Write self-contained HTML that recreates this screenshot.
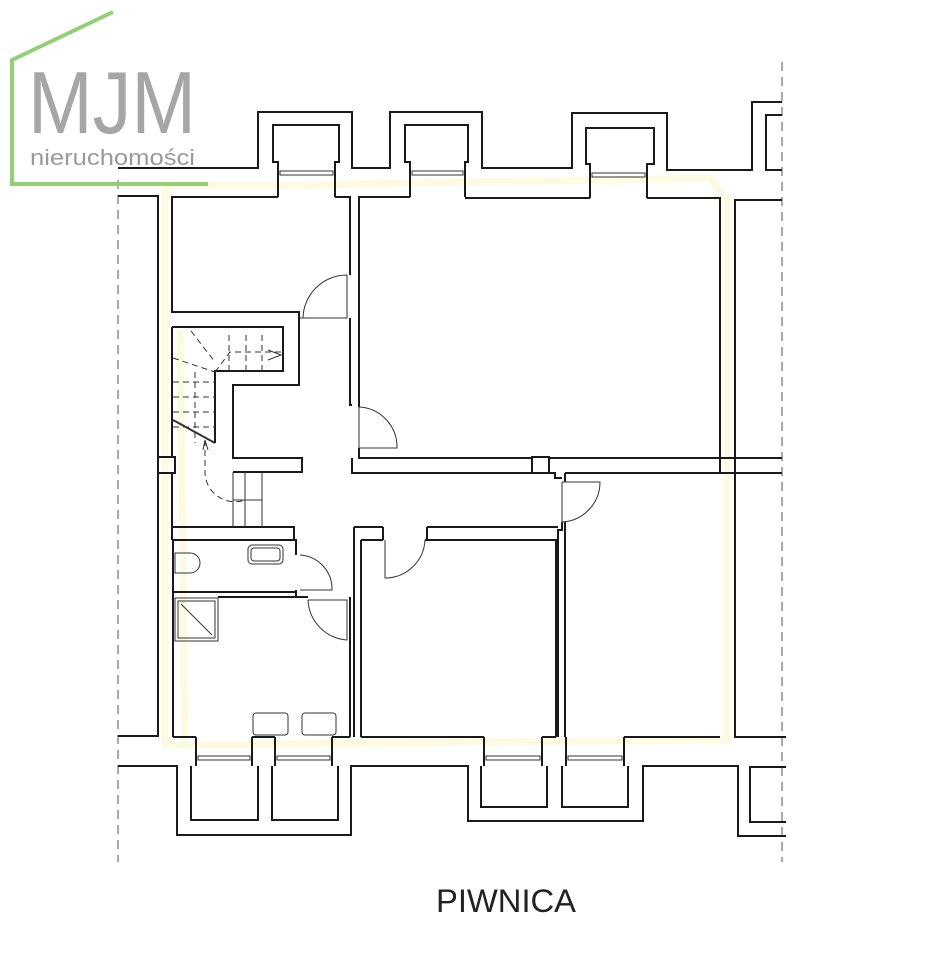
<!DOCTYPE html>
<html><head><meta charset="utf-8"><style>
html,body{margin:0;padding:0;background:#fff;}
svg{display:block;}
</style></head><body>
<svg width="928" height="960" viewBox="0 0 928 960" xmlns="http://www.w3.org/2000/svg">
<rect width="928" height="960" fill="#fff"/>
<!-- yellow highlight -->
<g fill="none" stroke="#fcfbe2" stroke-width="7" stroke-linejoin="round">
<path d="M165,185 H300 L710,178 L727,200 V740 L165,745 Z"/>
<path d="M180,330 L185,740"/>
</g>
<!-- dashed axis lines -->
<g stroke="#555" stroke-width="1" stroke-dasharray="9,6">
<line x1="118" y1="180" x2="118" y2="862"/>
<line x1="782" y1="62" x2="782" y2="862"/>
</g>
<!-- logo -->
<g fill="none" stroke="#94cf76" stroke-width="4">
<path d="M113,12 L12,60 V184 H208"/>
</g>
<text x="28" y="133" font-family="'Liberation Sans',sans-serif" font-size="88" fill="#a6a6a6" textLength="168" lengthAdjust="spacingAndGlyphs" font-weight="normal">MJM</text>
<text x="30" y="165" font-family="'Liberation Sans',sans-serif" font-size="22" fill="#9a9a9a" textLength="165" lengthAdjust="spacingAndGlyphs">nieruchomości</text>

<g fill="none" stroke="#1a1a1a" stroke-width="2" stroke-linejoin="miter">
<path d="M208,168 H258 V112 H352 V168 H390 V112 H482 V168 H572 V113 H667 V170 H752 V102 H782 M782,115 H766 V170 H782"/>
<path d="M118,168 H208"/>
<path d="M278,168 V162 H273 V125 H339 V162 H335 V168"/>
<path d="M410,168 V162 H405 V125 H468 V162 H465 V168"/>
<path d="M590,170 V164 H586 V128 H654 V164 H647 V170"/>
<path d="M278,168 V197 M335,168 V197 M410,168 V197 M465,168 V197 M590,170 V198 M647,170 V198"/>
<path d="M118,196 H158 V736 H118"/>
<path d="M278,197 H172 V312 H299 V318"/>
<path d="M335,197 H350 V275"/>
<path d="M350,318 V405 H352"/>
<path d="M359,448 V458 H532 M549,458 H720 V198 H647 M590,198 H465 M410,197 H359 V407"/>
<path d="M782,200 H735 V458 H782 M782,473 H735 V737 H786"/>
<rect x="720" y="458" width="15" height="15"/>
<rect x="532" y="457" width="17" height="16"/>
<path d="M352,458 V473 H555 V478 H562 M562,522 V530 L558,530 V737"/>
<path d="M565,473 H720"/>
<path d="M565,473 V482 M565,522 V737"/>
<path d="M299,318 V385 H233 V458 H302 V472 H233"/>
<path d="M172,327 H283 V371 H215 V443"/>
<rect x="158" y="457" width="17" height="16"/>
<path d="M172,327 V457 M172,473 V540"/>
<path d="M173,527 H294 V540 M173,540 H296 V555 M296,590 V597 H308 M218,597 H296"/>
<path d="M354,527 H383 M427,527 H558"/>
<path d="M354,527 V737 M361,540 V737 M361,540 H383 M425,540 H556 V737"/>
<path d="M383,527 V540 M427,527 V540"/>
<path d="M173,540 V737 M173,592 H296"/>
<path d="M350,597 V737"/>
<path d="M173,737 H196 M252,737 H275 M332,737 H350 M361,737 H484 M542,737 H556 M565,737 H566 M624,737 H720"/>
<path d="M196,737 V766 M252,737 V766 M275,737 V766 M332,737 V766 M484,737 V766 M542,737 V766 M566,737 V766 M624,737 V766"/>
<path d="M118,766 H177 V835 H351 V766 H468 V821 H643 V766 H738 V836 H786 M786,822 H750 V767 H786"/>
<path d="M191,766 V820 H258 V766 M272,766 V820 H338 V766 M481,766 V807 H547 V766 M562,766 V807 H628 V766"/>
</g>
<g fill="none" stroke="#333" stroke-width="1">
<rect x="280" y="171" width="53" height="4"/>
<rect x="412" y="171" width="51" height="4"/>
<rect x="592" y="173" width="53" height="4"/>
<rect x="198" y="756" width="52" height="4"/>
<rect x="277" y="756" width="53" height="4"/>
<rect x="486" y="756" width="54" height="4"/>
<rect x="568" y="756" width="54" height="4"/>
<path d="M347,275 V318 H300 M347,275 A44,44 0 0 0 303,318"/>
<path d="M359,407 V448 M359,407 A40,40 0 0 1 397,448 H359"/>
<path d="M562,482 V522 M562,482 H600 A40,40 0 0 1 562,522"/>
<path d="M385,540 V578 A40,40 0 0 0 425,540"/>
<path d="M300,555 A34,34 0 0 1 332,590 H300"/>
<path d="M308,600 A42,42 0 0 0 347,640 V600 H308"/>
<rect x="248" y="545" width="35" height="19" rx="4"/>
<rect x="251" y="548" width="29" height="13" rx="3"/>
<path d="M175,553 H190 A10,10 0 0 1 190,573 H175 Z"/>
<rect x="175" y="598" width="43" height="43"/>
<rect x="178" y="601" width="37" height="37"/>
<line x1="181" y1="604" x2="212" y2="635"/>
<rect x="253" y="713" width="35" height="22" rx="3"/>
<rect x="302" y="713" width="34" height="22" rx="3"/>
<g stroke-dasharray="6,4">
<path d="M191,331 L215,362 M173,358 L215,372 M215,372 L230,352 H282 M229,335 V372 M246,335 V372 M262,335 V372"/>
<path d="M173,382 H215 M173,397 H215 M173,412 H215 M173,427 H215 M195,372 V443 M205,440 V470 A30,30 0 0 0 245,500"/>
</g>
<path d="M173,420 L215,443" stroke-width="2"/>
<path d="M268,350 L281,355 L268,360"/>
<path d="M203,450 L205,440 L208,450"/>
<path d="M233,472 V527 M245,472 V527 M262,472 V527 M233,500 H262"/>
</g>
<text x="506" y="912" text-anchor="middle" font-family="'Liberation Sans',sans-serif" font-size="32" fill="#222" textLength="140" lengthAdjust="spacingAndGlyphs">PIWNICA</text>
</svg>
</body></html>
